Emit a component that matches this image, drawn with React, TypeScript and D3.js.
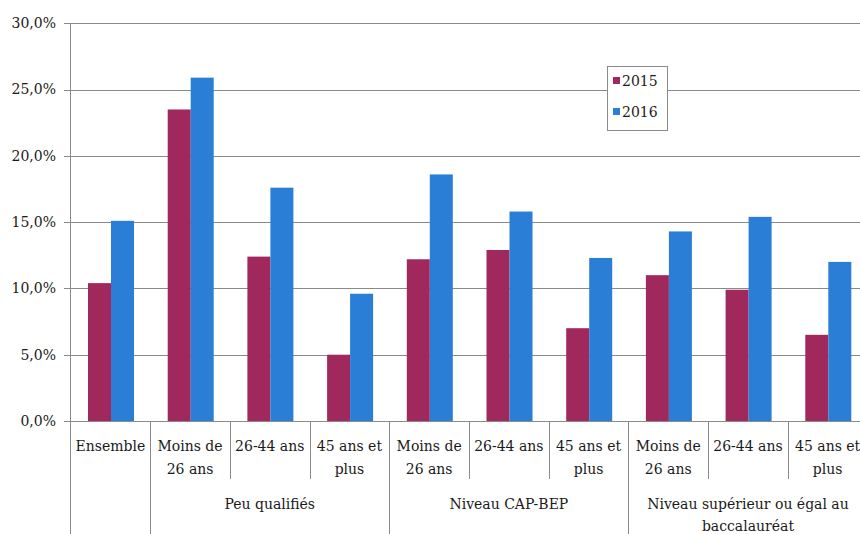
import React from "react";
import * as d3 from "d3";

const categories = [
  "Ensemble",
  "Peu qualifiés – Moins de 26 ans",
  "Peu qualifiés – 26-44 ans",
  "Peu qualifiés – 45 ans et plus",
  "CAP-BEP – Moins de 26 ans",
  "CAP-BEP – 26-44 ans",
  "CAP-BEP – 45 ans et plus",
  "Bac+ – Moins de 26 ans",
  "Bac+ – 26-44 ans",
  "Bac+ – 45 ans et plus",
];
const subLabels: string[][] = [
  ["Ensemble"],
  ["Moins de", "26 ans"],
  ["26-44 ans"],
  ["45 ans et", "plus"],
  ["Moins de", "26 ans"],
  ["26-44 ans"],
  ["45 ans et", "plus"],
  ["Moins de", "26 ans"],
  ["26-44 ans"],
  ["45 ans et", "plus"],
];
const groupLabels: string[][] = [
  ["Peu qualifiés"],
  ["Niveau CAP-BEP"],
  ["Niveau supérieur ou égal au", "baccalauréat"],
];
const groupStart = [1, 4, 7];
const groupEnd = [3, 6, 9];
const series = ["2015", "2016"];
const values2015 = [10.4, 23.5, 12.4, 5.0, 12.2, 12.9, 7.0, 11.0, 9.9, 6.5];
const values2016 = [15.1, 25.9, 17.6, 9.6, 18.6, 15.8, 12.3, 14.3, 15.4, 12.0];
const yTicks = [0, 5, 10, 15, 20, 25, 30];
const colors = ["#A1285D", "#2A7ED6"];

const W = 860;
const H = 534;
const font = "'DejaVu Serif', serif";

export default function App() {
  const x = d3.scaleBand<number>().domain(d3.range(categories.length)).range([70.5, 867.5]);
  const inner = d3.scaleBand<number>().domain([0, 1]).range([17.5, 63.5]);
  const y = d3.scaleLinear().domain([0, 30]).range([421, 23.3]);
  const fmt = (v: number) => v.toFixed(1).replace(".", ",") + "%";
  const vals = [values2015, values2016];
  const grid = "#8a8a8a";
  const axis = "#8a8a8a";
  const txt = "#1a1a1a";
  const xEnd = (i: number) => (x(i) as number) + x.bandwidth();

  return (
    <svg width={W} height={H} style={{ position: "absolute", left: 0, top: 0, background: "#fff" }}>
      <rect x={0} y={0} width={W} height={H} fill="#fff" />
      {yTicks.map((t) => (
        <g key={t}>
          <line x1={64} x2={W} y1={Math.round(y(t)) + 0.5} y2={Math.round(y(t)) + 0.5} stroke={grid} strokeWidth={1} />
          <text x={56} y={y(t)} dy="0.35em" textAnchor="end" fontFamily={font} fontSize={14} fill={txt}>
            {fmt(t)}
          </text>
        </g>
      ))}
      {categories.map((c, i) =>
        series.map((s, j) => (
          <rect
            key={c + s}
            x={(x(i) as number) + (inner(j) as number)}
            y={y(vals[j][i])}
            width={inner.bandwidth()}
            height={y(0) - y(vals[j][i])}
            fill={colors[j]}
          />
        ))
      )}
      {/* axis */}
      <line x1={70.5} x2={70.5} y1={23} y2={H} stroke={axis} strokeWidth={1} />
      {categories.slice(0, -1).map((c, i) => {
        const isGroup = groupStart.includes(i + 1);
        return (
          <line
            key={"d" + i}
            x1={Math.round(xEnd(i)) + 0.5}
            x2={Math.round(xEnd(i)) + 0.5}
            y1={421}
            y2={isGroup ? H : 479}
            stroke={axis}
            strokeWidth={1}
          />
        );
      })}
      {subLabels.map((lines, i) => (
        <text
          key={"s" + i}
          x={(x(i) as number) + x.bandwidth() / 2}
          y={451}
          textAnchor="middle"
          fontFamily={font}
          fontSize={14}
          fill={txt}
        >
          {lines.map((l, k) => (
            <tspan key={k} x={(x(i) as number) + x.bandwidth() / 2} dy={k === 0 ? 0 : 22.5}>
              {l}
            </tspan>
          ))}
        </text>
      ))}
      {groupLabels.map((lines, g) => {
        const cx = ((x(groupStart[g]) as number) + xEnd(groupEnd[g])) / 2;
        return (
          <text key={"g" + g} x={cx} y={509} textAnchor="middle" fontFamily={font} fontSize={14} fill={txt}>
            {lines.map((l, k) => (
              <tspan key={k} x={cx} dy={k === 0 ? 0 : 21.5}>
                {l}
              </tspan>
            ))}
          </text>
        );
      })}
      {/* legend */}
      <g>
        <rect x={607.5} y={66.5} width={60} height={64} fill="#fff" stroke="#8a8a8a" strokeWidth={1} />
        {series.map((s, j) => (
          <g key={s}>
            <rect x={613} y={77 + j * 31} width={7} height={7} fill={colors[j]} />
            <text x={622} y={86 + j * 31} fontFamily={font} fontSize={14} fill={txt}>
              {s}
            </text>
          </g>
        ))}
      </g>
    </svg>
  );
}
